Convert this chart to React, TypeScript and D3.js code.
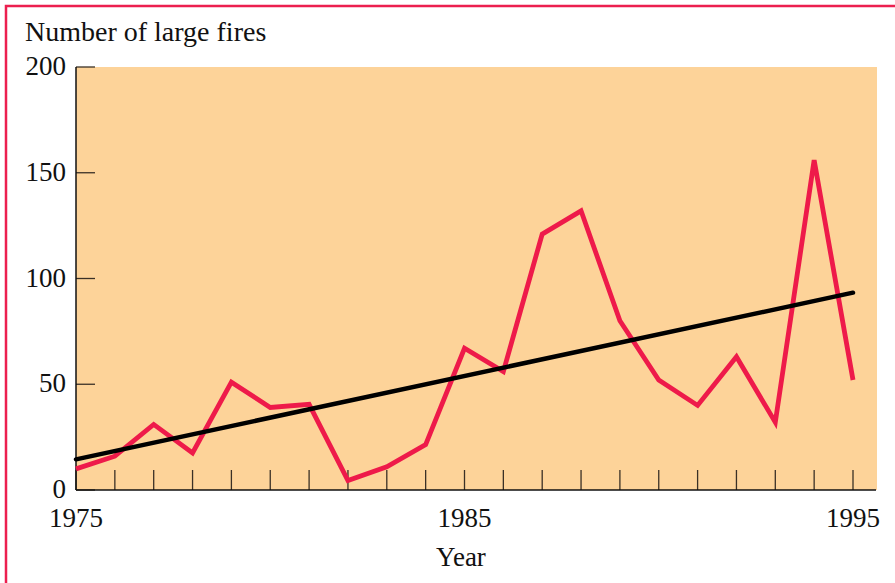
import React from "react";
import * as d3 from "d3";

const years = d3.range(1975, 1996);
const fires = [10, 16, 31, 17.5, 51, 39, 40.5, 4.5, 11, 21.5, 67, 56, 121, 132, 80, 52, 40, 63, 32, 156, 52];
const trendYears = [1975, 1995];
const trendValues = [14.5, 93.3];
const yTicks = [0, 50, 100, 150, 200];
const xLabels = [1975, 1985, 1995];

const W = 895;
const H = 583;
const left = 76;
const right = 877;
const top = 67;
const bottom = 490;
const font = "'Liberation Serif', 'DejaVu Serif', serif";

export default function App() {
  const x = d3.scaleLinear().domain([1975, 1995]).range([left, 853]);
  const y = d3.scaleLinear().domain([0, 200]).range([bottom, top]);

  const line = d3
    .line<number>()
    .x((_, i) => x(years[i]))
    .y((d) => y(d));

  const trend = d3
    .line<number>()
    .x((_, i) => x(trendYears[i]))
    .y((d) => y(d));

  return (
    <svg
      width={W}
      height={H}
      viewBox={`0 0 ${W} ${H}`}
      style={{ position: "absolute", left: 0, top: 0, background: "#fff" }}
    >
      <rect x={6} y={6} width={W + 10} height={H + 10} fill="none" stroke="#EC1F4F" strokeWidth={2.5} />
      <rect x={left} y={top} width={right - left} height={bottom - top} fill="#FDD399" />

      {years.map((yr) => (
        <line key={yr} x1={x(yr)} x2={x(yr)} y1={bottom - 20} y2={bottom} stroke="#3a3026" strokeWidth={1.3} />
      ))}
      {yTicks.map((t) => (
        <g key={t}>
          <line x1={left} x2={left + 19} y1={y(t)} y2={y(t)} stroke="#3a3026" strokeWidth={1.3} />
          <text x={66} y={y(t) + 8} textAnchor="end" fontFamily={font} fontSize={27} fill="#111">
            {t}
          </text>
        </g>
      ))}
      <line x1={left} x2={left} y1={top} y2={bottom} stroke="#111" strokeWidth={1.5} />
      <line x1={left} x2={876} y1={bottom} y2={bottom} stroke="#111" strokeWidth={1.5} />

      {xLabels.map((t) => (
        <text key={t} x={x(t)} y={527} textAnchor="middle" fontFamily={font} fontSize={27} fill="#111">
          {t}
        </text>
      ))}

      <path d={line(fires) ?? ""} fill="none" stroke="#EE1A4A" strokeWidth={4.8} strokeLinejoin="miter" />
      <path d={trend(trendValues) ?? ""} fill="none" stroke="#000" strokeWidth={4.5} strokeLinecap="round" />

      <text x={25} y={41} fontFamily={font} fontSize={28} fill="#111">
        Number of large fires
      </text>
      <text x={461} y={566} textAnchor="middle" fontFamily={font} fontSize={27} fill="#111">
        Year
      </text>
    </svg>
  );
}
